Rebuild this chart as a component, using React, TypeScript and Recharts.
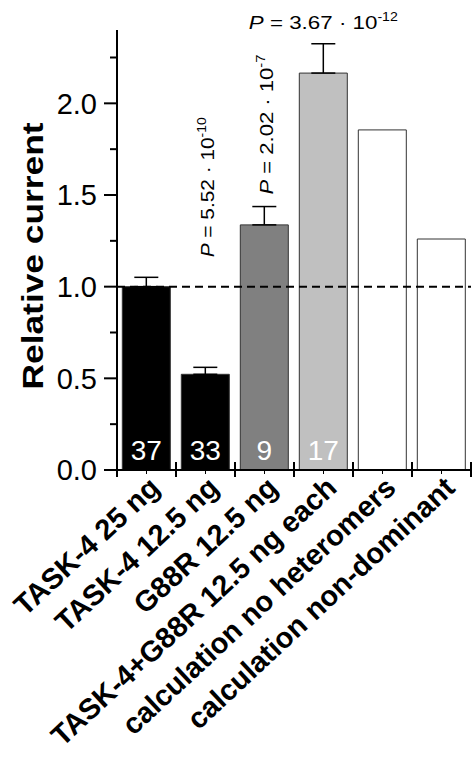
import React from 'react';
import { BarChart, Bar, Cell, XAxis, YAxis, ErrorBar, ReferenceLine, LabelList } from 'recharts';

const categories = [
  'TASK-4 25 ng',
  'TASK-4 12.5 ng',
  'G88R 12.5 ng',
  'TASK-4+G88R 12.5 ng each',
  'calculation no heteromers',
  'calculation non-dominant',
];
const relativeCurrent = [1.0, 0.522, 1.337, 2.165, 1.855, 1.26];
const semUpper: (number | null)[] = [0.051, 0.038, 0.1, 0.16, null, null];
const cellCounts = ['37', '33', '9', '17', '', ''];
const pMantissa = ['', '5.52', '2.02', '3.67', '', ''];
const pExponent = ['', '-10', '-7', '-12', '', ''];
const yTicks = [0, 0.25, 0.5, 0.75, 1, 1.25, 1.5, 1.75, 2, 2.25];

// styling
const FONT = 'Arial, "Liberation Sans", sans-serif';
const BAR_FILLS = ['#000000', '#000000', '#808080', '#c0c0c0', '#ffffff', '#ffffff'];
const P_GAP: Record<number, number> = { 1: 110, 2: 12, 3: 15 };
const HORIZONTAL_P = 3;

const data = categories.map((name, i) => ({
  name,
  value: relativeCurrent[i],
  err: semUpper[i] == null ? null : [0, semUpper[i]],
}));

const XTick = (props: any) => {
  const { x, y, payload, index } = props;
  const half = payload.offset ?? 0;
  const last = index === categories.length - 1;
  return (
    <g>
      <line x1={x - half} x2={x - half} y1={y - 8} y2={y + 7} stroke="#000" strokeWidth={2} />
      {last && <line x1={x + half} x2={x + half} y1={y - 8} y2={y + 7} stroke="#000" strokeWidth={2} />}
      <line x1={x} x2={x} y1={y} y2={y + 4} stroke="#000" strokeWidth={1} />
      <text
        transform={`translate(${x + 15},${y + 20}) rotate(-43)`}
        textAnchor="end"
        fontSize={29}
        fontWeight="bold"
        fill="#000"
        fontFamily={FONT}
      >
        {payload.value}
      </text>
    </g>
  );
};

const YTick = (props: any) => {
  const { x, y, payload } = props;
  const major = Math.abs(payload.value * 2 - Math.round(payload.value * 2)) < 1e-6;
  return (
    <g>
      <line x1={x - (major ? 13 : 7)} x2={x} y1={y} y2={y} stroke="#000" strokeWidth={2} />
      {major && (
        <text x={x - 20} y={y} dy="0.36em" textAnchor="end" fontSize={29} fill="#000" fontFamily={FONT}>
          {payload.value.toFixed(1)}
        </text>
      )}
    </g>
  );
};

const AxisTitle = (props: any) => {
  const { x, y, height } = props.viewBox;
  return (
    <text
      transform={`translate(${x + 43},${y + height / 2 + 6}) rotate(-90)`}
      textAnchor="middle"
      fontSize={29}
      fontWeight="bold"
      fill="#000"
      fontFamily={FONT}
      textLength={267}
      lengthAdjust="spacingAndGlyphs"
    >
      Relative current
    </text>
  );
};

const PLabel = (props: any) => {
  const vb = props.viewBox ?? props;
  const i = categories.indexOf(props.value);
  if (i < 0 || !pMantissa[i]) return null;
  const pxPerUnit = vb.height / relativeCurrent[i];
  const errTop = vb.y - (semUpper[i] ?? 0) * pxPerUnit;
  const cx = vb.x + vb.width / 2;
  const content = [
    <tspan key="p" fontStyle="italic">P</tspan>,
    <tspan key="m">{` = ${pMantissa[i]} · 10`}</tspan>,
    <tspan key="e" dy={-8} fontSize={12}>{pExponent[i]}</tspan>,
  ];
  if (i === HORIZONTAL_P) {
    return (
      <text x={cx} y={errTop - P_GAP[i]} textAnchor="middle" fontSize={19} fill="#000" fontFamily={FONT}
        textLength={149} lengthAdjust="spacingAndGlyphs">
        {content}
      </text>
    );
  }
  return (
    <text transform={`translate(${cx + 9},${errTop - P_GAP[i]}) rotate(-90)`} fontSize={18} fill="#000"
      fontFamily={FONT} textLength={140} lengthAdjust="spacingAndGlyphs">
      {content}
    </text>
  );
};

const CountLabel = (props: any) => {
  const vb = props.viewBox ?? props;
  const i = categories.indexOf(props.value);
  if (i < 0 || !cellCounts[i]) return null;
  return (
    <text x={vb.x + vb.width / 2} y={vb.y + vb.height - 10} textAnchor="middle" fontSize={28} fill="#fff" fontFamily={FONT}>
      {cellCounts[i]}
    </text>
  );
};

export default function App() {
  return (
    <div style={{ position: 'absolute', left: 0, top: 0, background: '#fff' }}>
      <BarChart
        width={473}
        height={758}
        data={data}
        margin={{ top: 30, right: 2, bottom: 0, left: 0 }}
        barCategoryGap="9%"
      >
        <XAxis
          dataKey="name"
          height={288}
          interval={0}
          tickSize={0}
          tickMargin={0}
          tickLine={false}
          tick={<XTick />}
          axisLine={{ stroke: '#000', strokeWidth: 2 }}
        />
        <YAxis
          type="number"
          domain={[0, 2.4]}
          ticks={yTicks}
          interval={0}
          width={117}
          tickSize={0}
          tickMargin={0}
          tickLine={false}
          tick={<YTick />}
          allowDataOverflow
          axisLine={{ stroke: '#000', strokeWidth: 2 }}
          label={<AxisTitle />}
        />
        <Bar dataKey="value" stroke="#333" strokeWidth={1} isAnimationActive={false}>
          {data.map((d, i) => (
            <Cell key={d.name} fill={BAR_FILLS[i]} />
          ))}
          <ErrorBar dataKey="err" width={12} stroke="#000" strokeWidth={1.5} direction="y" isAnimationActive={false} />
          <LabelList dataKey="name" content={<PLabel />} />
          <LabelList dataKey="name" content={<CountLabel />} />
        </Bar>
        <ReferenceLine y={1} stroke="#000" strokeWidth={2} strokeDasharray="8 5" />
      </BarChart>
    </div>
  );
}
